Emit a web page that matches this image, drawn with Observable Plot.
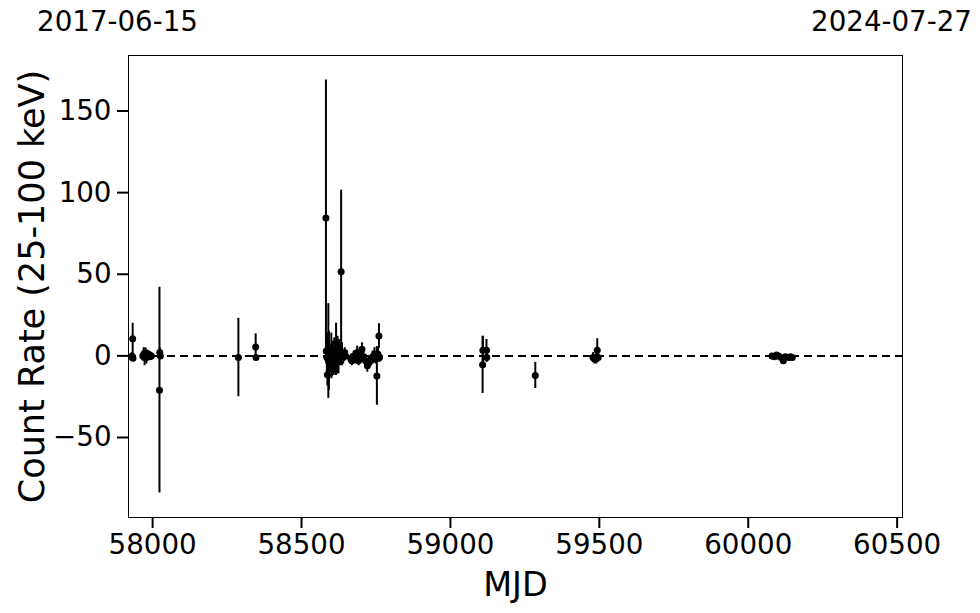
<!DOCTYPE html>
<html>
<head>
<meta charset="utf-8">
<script src="https://cdn.jsdelivr.net/npm/d3@7"></script>
<script src="https://cdn.jsdelivr.net/npm/@observablehq/plot@0.6"></script>
<style>
  html, body { margin: 0; padding: 0; background: #fff; }
  #chart svg { display: block; }
</style>
</head>
<body>
<div id="chart"></div>
<script>
// Observation dates (MJD)
const mjd = [
  57931, 57932, 57933, 57934,
  57967, 57970, 57973, 57976, 57979, 57983, 57987, 57991, 57996,
  58023, 58024, 58026,
  58288, 58346, 58347,
  58582, 58583, 58585, 58587, 58589, 58590, 58592, 58594, 58597, 58600,
  58602, 58605, 58608, 58610, 58613, 58616, 58619, 58621, 58624, 58627,
  58630, 58633, 58636, 58640, 58645, 58648,
  58666, 58669, 58675, 58681, 58687, 58692, 58698, 58703, 58709, 58715,
  58721, 58727, 58733, 58739, 58745, 58749, 58753, 58757, 58760, 58762,
  59108, 59109, 59121, 59122,
  59285,
  59479, 59484, 59490, 59493, 59496,
  60080, 60088, 60095, 60102, 60110, 60118, 60125, 60136, 60142, 60148
];
// Count rate (25-100 keV)
const rate = [
  0, -1, 10.5, -1.5,
  0, 1, -1, 2, -1, 0, 1, -0.5, 0,
  -21, 2, 0,
  -1, 5.5, -1,
  84.5, 3, -1, -11.5, 2, 3, -3, 1, -2, 0,
  -4, 2, -6, 1, -1, 4, -3, 6, -1, 2,
  -1, 51.5, 1, -1, 2, 0,
  -2, -3, 0, -1, 2, -3, 0, 4, -1, -3,
  -6, -4, -2, -1, 1, -2, -12.3, 1, 12.2, -1,
  -5.5, 3.5, 3.5, -1,
  -12,
  -1, -2, -1, 3.5, -1,
  0, -0.5, 0.5, 0, -1, -3, -0.5, -1, -0.5, -1
];
// 1-sigma errors
const err = [
  2, 2, 9.5, 2,
  3, 4, 5, 3, 4, 2, 2, 2, 2,
  63, 3, 2,
  24, 8, 2,
  84.5, 8, 10, 7, 12, 29, 18, 6, 8, 14,
  9, 7, 6, 10, 10, 16, 8, 6, 10, 8,
  5, 50, 7, 4, 3, 2,
  3, 3, 3, 4, 4, 3, 4, 4, 3, 4,
  4, 4, 3, 4, 4, 3, 18, 4, 7.5, 3,
  17.5, 8.5, 6.5, 3,
  8,
  3, 3, 4, 7, 3,
  1, 1, 1, 1, 1, 1, 1, 1, 1, 1
];
// Axis ticks
const xTicks = [58000, 58500, 59000, 59500, 60000, 60500];
const yTicks = [-50, 0, 50, 100, 150];
// Date labels at the ends of the time axis
const dateLabels = ["2017-06-15", "2024-07-27"];
const dateMjd = [57919, 60518];

const data = mjd.map((m, i) => ({mjd: m, rate: rate[i], err: err[i]}));

const chart = Plot.plot({
  width: 980,
  height: 613,
  marginLeft: 128,
  marginRight: 78,
  marginTop: 55,
  marginBottom: 96,
  style: {fontFamily: "DejaVu Sans, sans-serif", fontSize: "27.7px", color: "black", background: "white"},
  x: {domain: [57919, 60518]},
  y: {domain: [-99, 184]},
  marks: [
    Plot.frame({stroke: "black", strokeWidth: 1}),
    Plot.ruleY([0], {stroke: "black", strokeWidth: 2, strokeDasharray: "8,5"}),
    Plot.ruleX(data, {x: "mjd", y1: d => d.rate - d.err, y2: d => d.rate + d.err, stroke: "black", strokeWidth: 2}),
    Plot.dot(data, {x: "mjd", y: "rate", r: 3.5, fill: "black", stroke: "none"}),
    Plot.axisX({ticks: xTicks, tickFormat: "d", tickSize: 11, tickPadding: 6, strokeWidth: 2, label: null, fontSize: 27.7}),
    Plot.axisY({ticks: yTicks, tickSize: 11, tickPadding: 6, strokeWidth: 2, label: null, fontSize: 27.7}),
    Plot.text(["MJD"], {frameAnchor: "bottom", lineAnchor: "middle", dy: 68, fontSize: 33.5, fill: "black"}),
    Plot.text(["Count Rate (25-100 keV)"], {frameAnchor: "left", textAnchor: "middle", lineAnchor: "middle", dx: -96, rotate: -90, fontSize: 35, fill: "black"}),
    Plot.text(dateLabels, {x: (d, i) => dateMjd[i], text: d => d, frameAnchor: "top", lineAnchor: "middle", dy: -33, dx: -11, fontSize: 27.7, fill: "black"})
  ]
});
document.getElementById("chart").appendChild(chart);
</script>
</body>
</html>
